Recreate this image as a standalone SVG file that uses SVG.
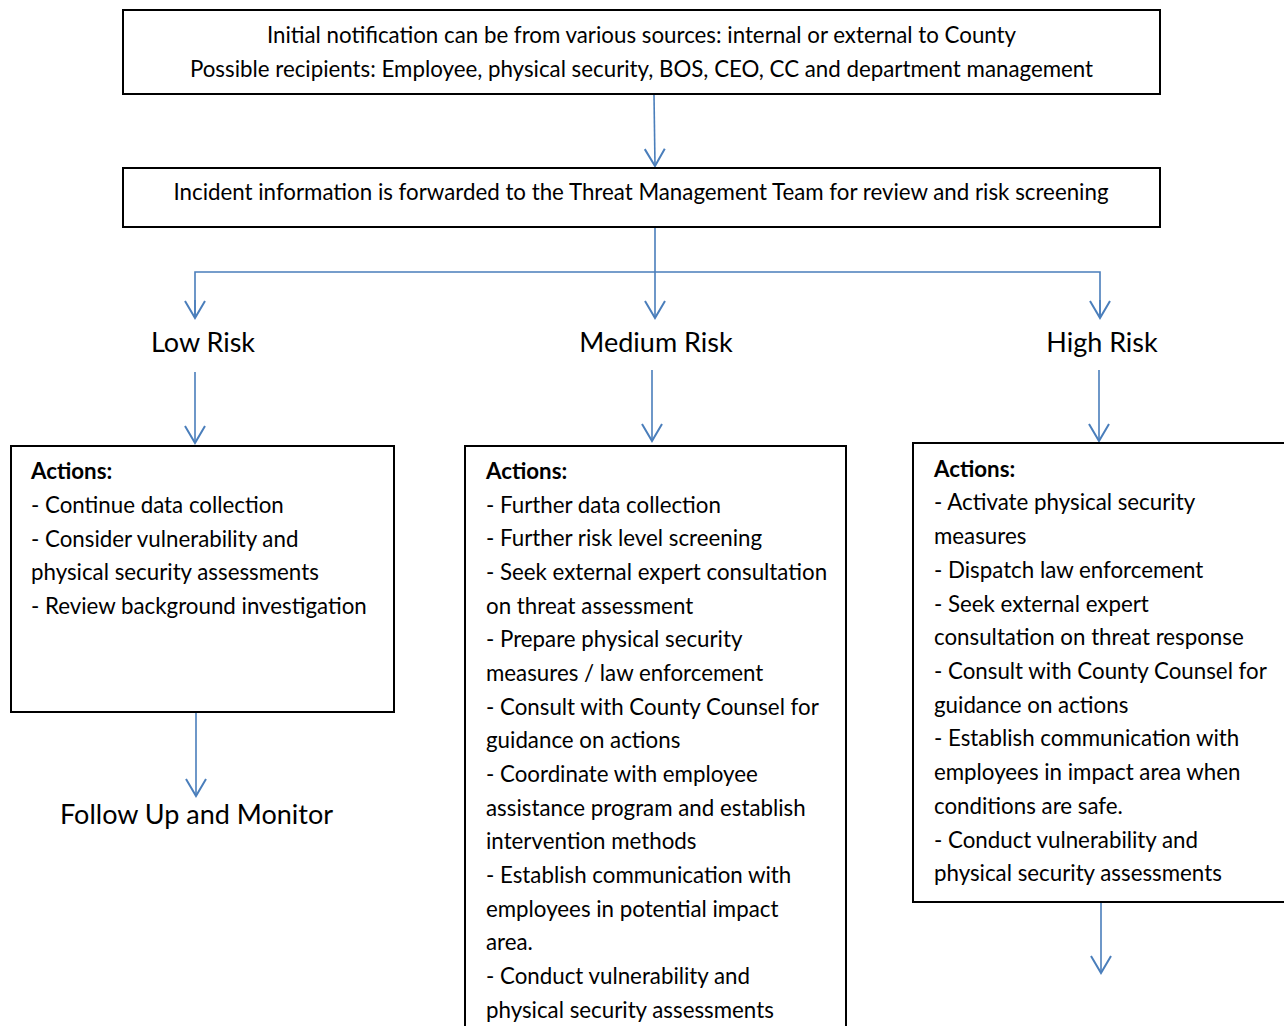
<svg xmlns="http://www.w3.org/2000/svg" width="1284" height="1026" viewBox="0 0 1284 1026">
<defs>
<marker id="ah" markerUnits="userSpaceOnUse" markerWidth="40" markerHeight="40" viewBox="-20 -20 40 40" refX="0" refY="0" orient="auto" overflow="visible">
<path d="M-17,-10 L0,0 L-17,10" fill="none" stroke="#4A7EBB" stroke-width="2"/>
</marker>
</defs>
<style>
.box{fill:#fff;stroke:#000;stroke-width:2}
.t{font-family:Lato,"Open Sans","Liberation Sans",sans-serif;font-size:22.3px;fill:#000}
.b{font-weight:bold}
.h{font-family:Lato,"Open Sans","Liberation Sans",sans-serif;font-size:27px;fill:#000}
.c{fill:none;stroke:#4A7EBB;stroke-width:1.6}
</style>
<rect width="1284" height="1026" fill="#fff"/>
<g id="connectors">
<line class="c" x1="654" y1="95" x2="655" y2="166" marker-end="url(#ah)" stroke="#5B9BD5"/>
<line class="c" x1="655" y1="228" x2="655" y2="318" marker-end="url(#ah)"/>
<polyline class="c" points="195,318 195,272 1100,272 1100,318"/>
<line class="c" x1="195" y1="300" x2="195" y2="318" marker-end="url(#ah)"/>
<line class="c" x1="1100" y1="300" x2="1100" y2="318" marker-end="url(#ah)"/>
<line class="c" x1="195" y1="372" x2="195" y2="443" marker-end="url(#ah)"/>
<line class="c" x1="652" y1="370" x2="652" y2="441" marker-end="url(#ah)"/>
<line class="c" x1="1099" y1="370" x2="1099" y2="441" marker-end="url(#ah)"/>
<line class="c" x1="196" y1="713" x2="196" y2="796" marker-end="url(#ah)"/>
<line class="c" x1="1101" y1="903" x2="1101" y2="973" marker-end="url(#ah)"/>
</g>
<g id="n1">
<rect class="box" x="123" y="10" width="1037" height="84"/>
<text class="t" x="641.5" y="43" text-anchor="middle">Initial notification can be from various sources: internal or external to County</text>
<text class="t" x="641.5" y="77" text-anchor="middle">Possible recipients: Employee, physical security, BOS, CEO, CC and department management</text>
</g>
<g id="n2">
<rect class="box" x="123" y="168" width="1037" height="59"/>
<text class="t" x="641" y="200" text-anchor="middle">Incident information is forwarded to the Threat Management Team for review and risk screening</text>
</g>
<g id="low-label"><text class="h" x="203" y="352" text-anchor="middle">Low Risk</text></g>
<g id="medium-label"><text class="h" x="656" y="352" text-anchor="middle">Medium Risk</text></g>
<g id="high-label"><text class="h" x="1102" y="352" text-anchor="middle">High Risk</text></g>
<g id="low-actions">
<rect class="box" x="11" y="446" width="383" height="266"/>
<text class="t b" x="31" y="479">Actions:</text>
<text class="t" x="31" y="513">- Continue data collection</text>
<text class="t" x="31" y="547">- Consider vulnerability and</text>
<text class="t" x="31" y="580">physical security assessments</text>
<text class="t" x="31" y="614">- Review background investigation</text>
</g>
<g id="follow-up"><text class="h" x="60" y="824">Follow Up and Monitor</text></g>
<g id="medium-actions">
<rect class="box" x="465" y="446" width="381" height="590"/>
<text class="t b" x="486" y="479">Actions:</text>
<text class="t" x="486" y="513">- Further data collection</text>
<text class="t" x="486" y="546">- Further risk level screening</text>
<text class="t" x="486" y="580">- Seek external expert consultation</text>
<text class="t" x="486" y="614">on threat assessment</text>
<text class="t" x="486" y="647">- Prepare physical security</text>
<text class="t" x="486" y="681">measures / law enforcement</text>
<text class="t" x="486" y="715">- Consult with County Counsel for</text>
<text class="t" x="486" y="748">guidance on actions</text>
<text class="t" x="486" y="782">- Coordinate with employee</text>
<text class="t" x="486" y="816">assistance program and establish</text>
<text class="t" x="486" y="849">intervention methods</text>
<text class="t" x="486" y="883">- Establish communication with</text>
<text class="t" x="486" y="917">employees in potential impact</text>
<text class="t" x="486" y="950">area.</text>
<text class="t" x="486" y="984">- Conduct vulnerability and</text>
<text class="t" x="486" y="1018">physical security assessments</text>
</g>
<g id="high-actions">
<rect class="box" x="913" y="443" width="381" height="459"/>
<text class="t b" x="934" y="477">Actions:</text>
<text class="t" x="934" y="510">- Activate physical security</text>
<text class="t" x="934" y="544">measures</text>
<text class="t" x="934" y="578">- Dispatch law enforcement</text>
<text class="t" x="934" y="612">- Seek external expert</text>
<text class="t" x="934" y="645">consultation on threat response</text>
<text class="t" x="934" y="679">- Consult with County Counsel for</text>
<text class="t" x="934" y="713">guidance on actions</text>
<text class="t" x="934" y="746">- Establish communication with</text>
<text class="t" x="934" y="780">employees in impact area when</text>
<text class="t" x="934" y="814">conditions are safe.</text>
<text class="t" x="934" y="848">- Conduct vulnerability and</text>
<text class="t" x="934" y="881">physical security assessments</text>
</g>
</svg>
